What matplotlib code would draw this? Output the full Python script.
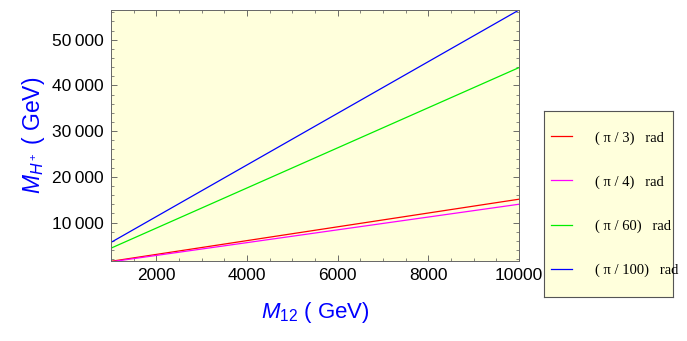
import matplotlib
matplotlib.use("Agg")
import matplotlib.pyplot as plt
from matplotlib.ticker import MultipleLocator, FuncFormatter

# M12 values (GeV) and charged Higgs masses
m12 = [1000, 10000]
mh_pi3 = [1510, 15100]
mh_pi4 = [1400, 14000]
mh_pi60 = [4390, 43900]
mh_pi100 = [5650, 56500]

labels = ["( π / 3)   rad", "( π / 4)   rad", "( π / 60)   rad", "( π / 100)   rad"]
colors = ["#ff0000", "#ff00ff", "#00ee00", "#0000ff"]

bg = "#ffffdc"
plt.rcParams["font.family"] = ["Liberation Sans", "DejaVu Sans"]
plt.rcParams["mathtext.fontset"] = "custom"
plt.rcParams["mathtext.rm"] = "Liberation Sans"
plt.rcParams["mathtext.it"] = "Liberation Sans:italic"

fig = plt.figure(figsize=(6.87, 3.41), dpi=100)
ax = fig.add_axes([111 / 687, 1 - 261 / 341, 408 / 687, 251 / 341])
ax.set_facecolor(bg)

for ys, c, lab in zip([mh_pi3, mh_pi4, mh_pi60, mh_pi100], colors, labels):
    ax.plot(m12, ys, color=c, lw=0.9, label=lab)

ax.set_xlim(1000, 10000)
ax.set_ylim(1580, 56500)
ax.xaxis.set_major_locator(MultipleLocator(2000))
ax.xaxis.set_minor_locator(MultipleLocator(500))
ax.yaxis.set_major_locator(MultipleLocator(10000))
ax.yaxis.set_minor_locator(MultipleLocator(2000))
ax.yaxis.set_major_formatter(FuncFormatter(
    lambda v, p: f"{int(v):,}".replace(",", "\u2009")))

ax.tick_params(which="both", direction="in", top=True, right=True,
               color="#555555", labelsize=12.5, pad=5)
ax.tick_params(which="major", length=4, width=0.6)
ax.tick_params(which="minor", length=2.2, width=0.5)
for s in ax.spines.values():
    s.set_color("#666666")
    s.set_linewidth(0.7)

ax.set_xlabel(r"$M_{12}$ ( GeV)", color="#0000ff", fontsize=16, labelpad=12)
ax.set_ylabel(r"$M_{H^+}$ ( GeV)", color="#0000ff", fontsize=16.5, labelpad=4)

# legend box as its own panel so the frame size matches
lax = fig.add_axes([544 / 687, 1 - 297 / 341, 129 / 687, 186 / 341])
lax.set_facecolor(bg)
lax.set_xticks([])
lax.set_yticks([])
for s in lax.spines.values():
    s.set_color("#555555")
    s.set_linewidth(0.8)

handles, labs = ax.get_legend_handles_labels()
lax.legend(handles, labs, loc="center left", bbox_to_anchor=(0.0, 0.5),
           frameon=False, prop={"family": "Liberation Serif", "size": 10.5},
           handlelength=1.4, handletextpad=1.6, labelspacing=2.1,
           borderpad=0, borderaxespad=0.5)

fig.savefig("out.png", dpi=100)
